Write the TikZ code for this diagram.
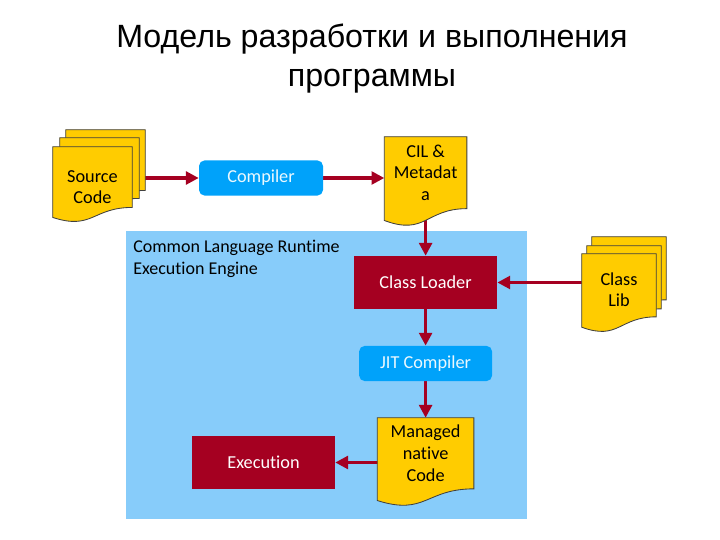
\documentclass[tikz,border=0pt]{standalone}
\usepackage{fontspec}
\setmainfont{Carlito}[Ligatures=NoCommon]
\newfontfamily\titlefont{Liberation Sans}
\usetikzlibrary{arrows.meta, positioning, calc}
\definecolor{crimsonBox}{RGB}{165,0,33}
\definecolor{azureBox}{RGB}{0,162,250}
\definecolor{skyBack}{RGB}{135,204,250}
\definecolor{goldDoc}{RGB}{255,204,0}
\pgfdeclarelayer{back}
\pgfdeclarelayer{arrows}
\pgfdeclarelayer{docs}
\pgfsetlayers{back,arrows,docs,main}

% document outline with a wavy bottom, drawn round a node and shifted by (#2,#3)
\newcommand{\docshape}[3]{%
  \path[docline] let \p1=(#1.north west), \p2=(#1.south east), \n1={\y1-\y2} in
    ({\x1+#2},{\y1+#3}) -- ({\x2+#2},{\y1+#3}) -- ({\x2+#2},{\y2+#3})
    .. controls ({0.5*\x1+0.5*\x2+#2},{\y2+#3}) and ({0.5*\x1+0.5*\x2+#2},{\y2+#3-0.38*\n1})
    .. ({\x1+#2},{\y2+#3-0.1646*\n1}) -- cycle;}

\begin{document}
\begin{tikzpicture}[
    redbox/.style={fill=crimsonBox, minimum width=3.575cm, minimum height=1.325cm, text=white, font=\fontsize{13}{15}\selectfont},
    bluebox/.style={fill=azureBox, rounded corners=4pt, minimum height=0.88cm, text=white!92!azureBox, font=\fontsize{13}{15}\selectfont},
    docnode/.style={inner sep=0pt, align=center, font=\fontsize{13}{15.4}\selectfont},
    docline/.style={fill=goldDoc, draw=black!75, line width=0.6pt},
    arrow/.style={line width=2.2pt, -{Triangle[length=0.32cm, width=0.32cm]}, draw=crimsonBox}
]
    \useasboundingbox (0,0) rectangle (18,13.5);

    \node[font=\titlefont\fontsize{22.9}{28}\selectfont, align=center] (title) at (9.3, 12.04) {Модель разработки и выполнения\\программы};

    % runtime area
    \begin{pgfonlayer}{back}
        \fill[skyBack] (3.15, 0.525) rectangle (13.175, 7.725);
    \end{pgfonlayer}
    \node[anchor=north west, inner sep=0pt, align=left, font=\fontsize{12.8}{15.6}\selectfont] (clr) at (3.325, 7.5) {Common Language Runtime\\Execution Engine};

    \node[docnode, minimum width=1.975cm, minimum height=1.504cm] (src) at (2.3125, 8.823) {Source\\Code};
    \node[bluebox, minimum width=3.1cm] (comp) at (6.525, 9.05) {Compiler};
    \node[docnode, minimum width=2.05cm, minimum height=1.784cm] (cil) at (10.64, 9.183) {CIL \&\\Metadat\\a};
    \node[redbox] (loader) at (10.64, 6.4375) {Class Loader};
    \node[docnode, minimum width=1.85cm, minimum height=1.564cm] (clslib) at (15.475, 6.258) {Class\\Lib};
    \node[bluebox, minimum width=3.325cm] (jit) at (10.64, 4.4125) {JIT Compiler};
    \node[docnode, minimum width=2.4cm, minimum height=1.764cm] (managed) at (10.64, 2.168) {Managed\\native\\Code};
    \node[redbox] (exec) at (6.5875, 1.9375) {Execution};

    \begin{pgfonlayer}{docs}
        \docshape{src}{0.325cm}{0.675cm}
        \docshape{src}{0.175cm}{0.475cm}
        \docshape{src}{0pt}{0.25cm}
        \docshape{cil}{0pt}{0pt}
        \docshape{clslib}{0.25cm}{0.535cm}
        \docshape{clslib}{0.125cm}{0.31cm}
        \docshape{clslib}{0pt}{0.11cm}
        \docshape{managed}{0pt}{0pt}
    \end{pgfonlayer}

    \begin{pgfonlayer}{arrows}
        \draw[arrow] (src.center |- comp) -- (comp.west);
        \draw[arrow] (comp.east) -- (comp.east -| cil.west);
        \draw[arrow] (cil) -- (loader);
        \draw[arrow] (clslib.center |- loader) -- (loader.east);
        \draw[arrow] (loader) -- (jit);
        \draw[arrow] (jit) -- (managed);
        \draw[arrow] (managed.center |- exec) -- (exec.east);
    \end{pgfonlayer}
\end{tikzpicture}
\end{document}
